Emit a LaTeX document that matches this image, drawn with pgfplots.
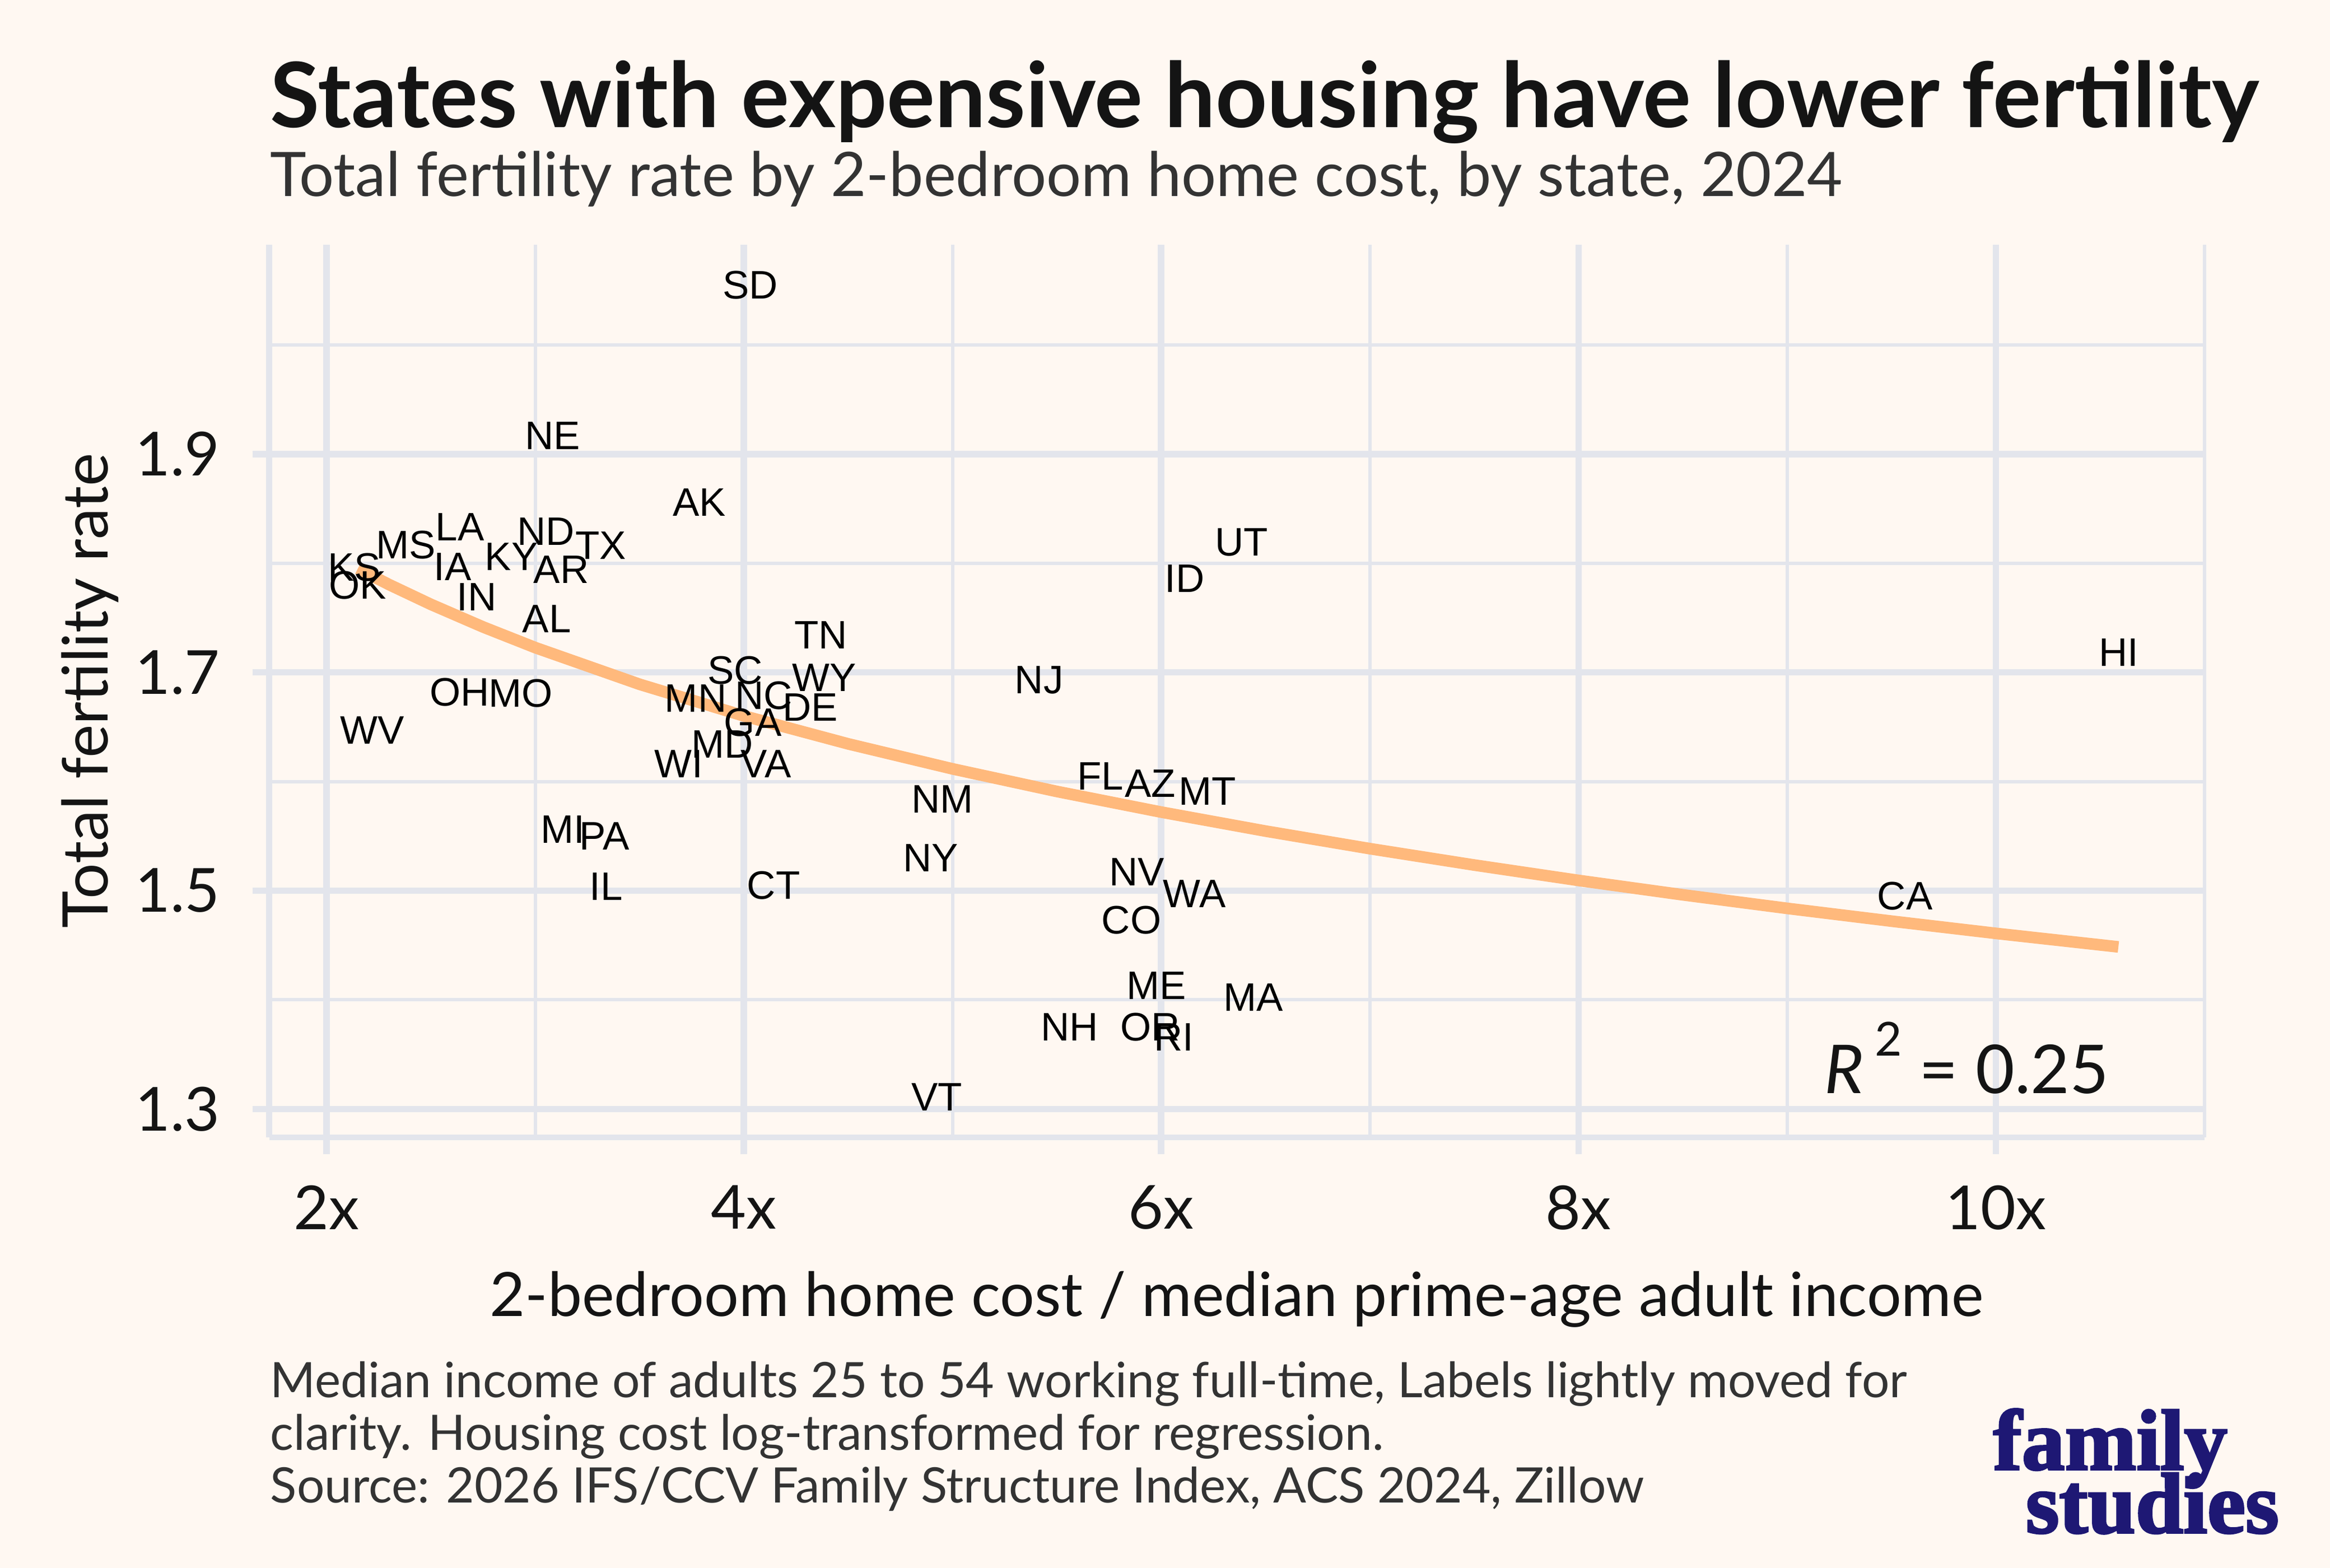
\documentclass[border=0pt]{standalone}
\usepackage{fontspec}
\setmainfont{Lato}
\newfontfamily\labfont{Liberation Sans}
\newfontfamily\logofont[FakeBold=2.5]{Liberation Serif Bold}
\usepackage{pgfplots}
\usepackage{pgfplotstable}
\pgfplotsset{compat=1.18}
\definecolor{bg}{HTML}{FFF8F2}
\definecolor{gridc}{HTML}{E3E5EC}
\definecolor{curve}{HTML}{FFB97C}
\definecolor{txt}{HTML}{141414}
\definecolor{sub}{HTML}{333333}
\definecolor{navy}{HTML}{1E1874}

\pgfplotstableread{
x y lab
4.031 2.055 SD
3.084 1.917 NE
3.786 1.856 AK
2.639 1.833 LA
2.379 1.817 MS
3.050 1.829 ND
3.315 1.816 TX
2.886 1.806 KY
2.604 1.797 IA
3.125 1.794 AR
2.133 1.796 KS
2.150 1.780 OK
2.720 1.769 IN
3.055 1.749 AL
6.384 1.819 UT
6.113 1.786 ID
4.369 1.734 TN
10.589 1.718 HI
3.958 1.702 SC
5.415 1.693 NJ
4.385 1.695 WY
2.638 1.682 OH
2.929 1.681 MO
3.769 1.676 MN
4.095 1.679 NC
4.318 1.668 DE
4.043 1.654 GA
2.218 1.647 WV
3.897 1.634 MD
3.687 1.616 WI
4.106 1.616 VA
5.709 1.605 FL
5.947 1.598 AZ
6.221 1.591 MT
4.951 1.584 NM
3.131 1.556 MI
3.332 1.550 PA
4.896 1.530 NY
5.883 1.517 NV
3.340 1.504 IL
4.142 1.505 CT
6.159 1.497 WA
9.564 1.495 CA
5.857 1.473 CO
5.978 1.413 ME
6.440 1.402 MA
5.561 1.375 NH
5.947 1.375 OR
6.061 1.366 RI
4.925 1.311 VT
}\states

\pgfplotstableread{
x y
2.150 1.7951
2.300 1.7804
2.500 1.7623
2.750 1.7416
3.000 1.7227
3.500 1.6891
4.000 1.6601
4.500 1.6345
5.000 1.6116
5.500 1.5909
6.000 1.5720
6.500 1.5546
7.000 1.5385
7.500 1.5235
8.000 1.5094
8.500 1.4962
9.000 1.4838
9.500 1.4721
10.000 1.4609
10.587 1.4485
}\fit

\begin{document}
\begin{tikzpicture}[x=1bp,y=1bp]
\fill[bg] (0,0) rectangle (1040,-700);
\begin{axis}[
  at={(120.15bp,-507.75bp)}, anchor=south west,
  scale only axis, width=863.85bp, height=398.6bp,
  xmin=1.725, xmax=11.0, ymin=1.274, ymax=2.092,
  axis line style={draw=none},
  clip=false,
  xtick={2,4,6,8,10}, xticklabels={2x,4x,6x,8x,10x},
  minor xtick={3,5,7,9,11},
  ytick={1.3,1.5,1.7,1.9}, yticklabels={1.3,1.5,1.7,1.9},
  minor ytick={1.4,1.6,1.8,2.0},
  xtick pos=bottom, ytick pos=left,
  grid=both,
  major grid style={gridc, line width=2.9bp},
  minor grid style={gridc, line width=1.5bp},
  tick align=outside, major tick length=7.5bp, minor tick length=0pt,
  every tick/.style={gridc, line width=2.9bp},
  tick label style={font=\fontsize{27.2}{30}\selectfont, text=txt, inner sep=0pt},
  xticklabel style={anchor=north, yshift=-13.75bp},
  yticklabel style={anchor=east, xshift=-14.25bp},
]
\draw[gridc, line width=2.7bp] (rel axis cs:0,0) -- (rel axis cs:0,1);
\draw[gridc, line width=2.7bp] (rel axis cs:0,0) -- (rel axis cs:1,0);
\addplot[curve, line width=5.2bp, no marks] table[x=x, y=y] {\fit};
\addplot[draw=none, no marks, point meta=explicit symbolic,
  nodes near coords={\pgfplotspointmeta},
  nodes near coords align={center},
  nodes near coords style={anchor=center, inner sep=0pt, text=black,
     font=\labfont\fontsize{17.8}{18}\selectfont}]
  table[x=x, y=y, meta=lab] {\states};
\end{axis}
\node[anchor=base west, inner sep=0, text=txt] at (120.5,-57)
  {\fontsize{40.4}{48}\selectfont\bfseries States with expensive housing have lower fertility};
\node[anchor=base west, inner sep=0, text=sub] at (120.5,-87.75)
  {\fontsize{27.5}{30}\selectfont Total fertility rate by 2-bedroom home cost, by state, 2024};
\node[anchor=base, inner sep=0, text=txt] at (552,-587.5)
  {\fontsize{27.35}{32}\selectfont 2-bedroom home cost / median prime-age adult income};
\node[anchor=base, inner sep=0, text=txt, rotate=90] at (48,-308.4)
  {\fontsize{28.2}{32}\selectfont Total fertility rate};
\node[anchor=base west, inner sep=0, text=sub] at (120.5,-623.75)
  {\fontsize{21.9}{26}\selectfont Median income of adults 25 to 54 working full-time, Labels lightly moved for};
\node[anchor=base west, inner sep=0, text=sub] at (120.5,-647.3)
  {\fontsize{21.9}{26}\selectfont clarity. Housing cost log-transformed for regression.};
\node[anchor=base west, inner sep=0, text=sub] at (120.5,-670.8)
  {\fontsize{21.9}{26}\selectfont Source: 2026 IFS/CCV Family Structure Index, ACS 2024, Zillow};
\node[anchor=base east, inner sep=0, text=txt] at (941.5,-488)
  {\fontsize{30.2}{36}\selectfont\itshape R\,\raisebox{0.55em}{\upshape\fontsize{21}{24}\selectfont 2}\upshape\ = 0.25};
\node[anchor=base west, inner sep=0, text=navy] at (889.5,-656)
  {\logofont\fontsize{38.5}{40}\selectfont family};
\node[anchor=base west, inner sep=0, text=navy] at (904,-684.25)
  {\logofont\fontsize{38.5}{40}\selectfont studies};
\end{tikzpicture}
\end{document}
